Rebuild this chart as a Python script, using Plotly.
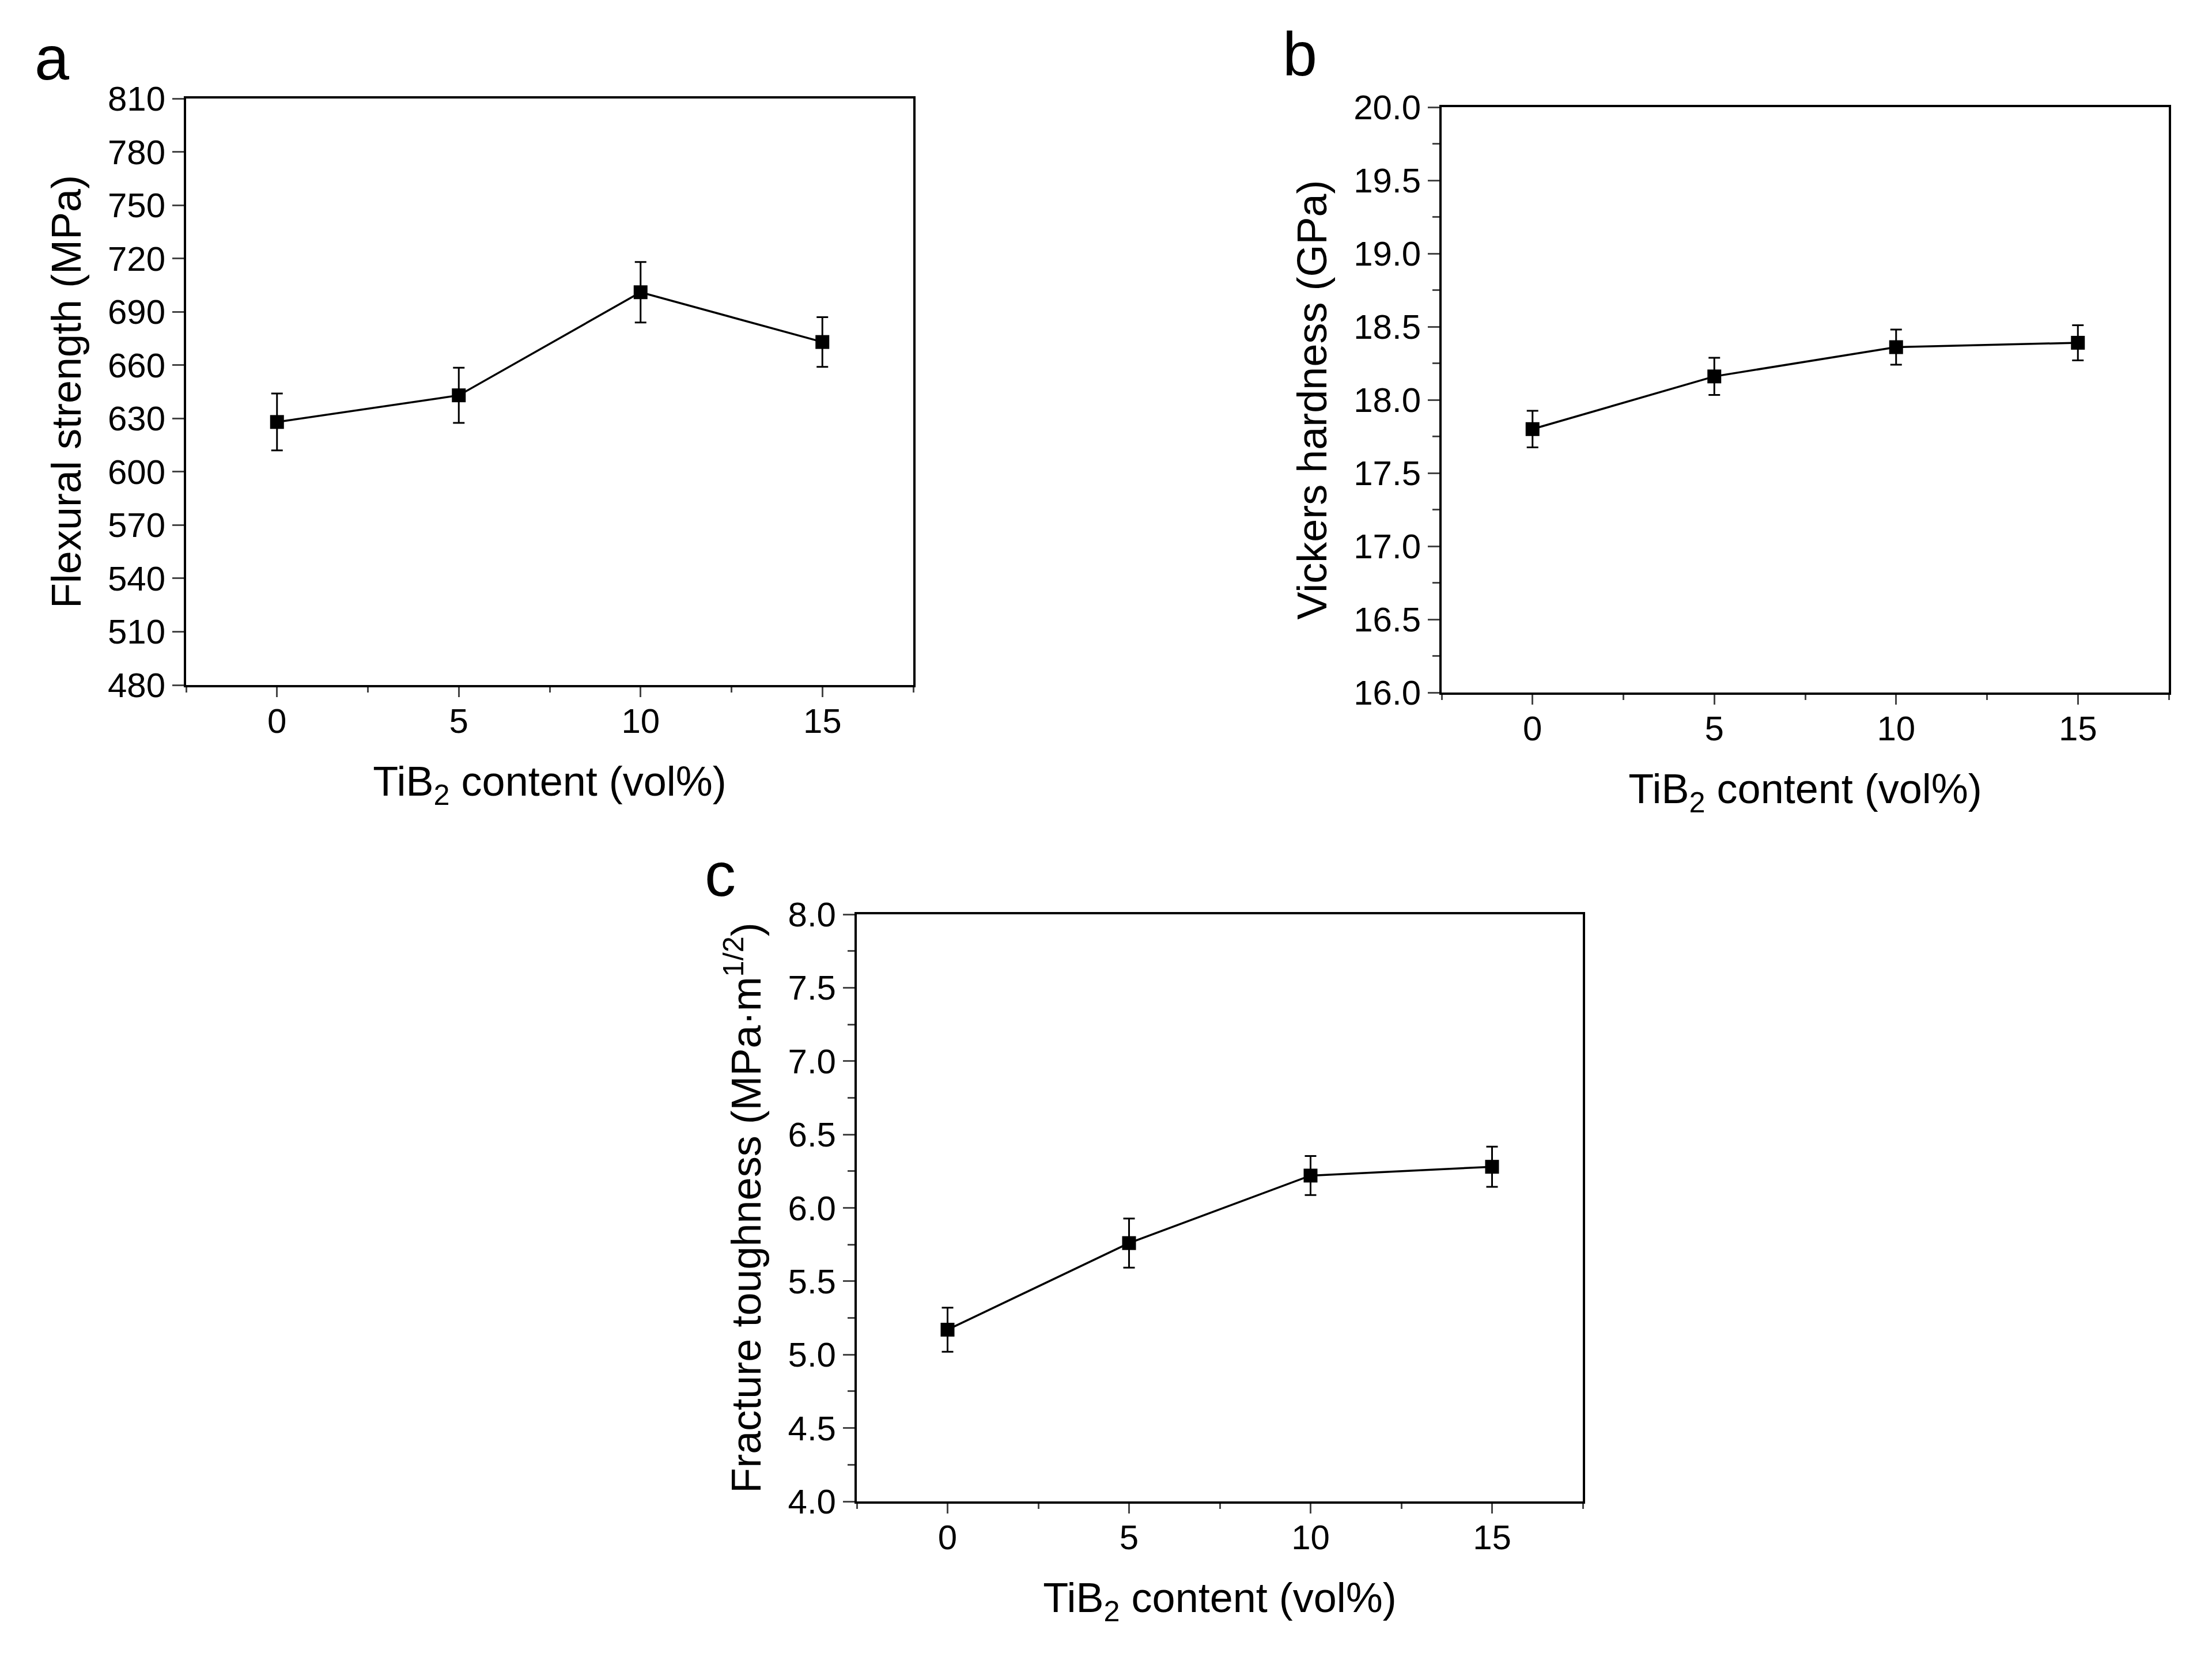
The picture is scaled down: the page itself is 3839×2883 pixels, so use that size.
import plotly.graph_objects as go

# TiB2 content (vol%)
content = [0, 5, 10, 15]

# a: flexural strength (MPa)
flex = [628, 643, 701, 673]
flex_err = [16, 15.5, 17, 14]

# b: Vickers hardness (GPa)
hv = [17.80, 18.16, 18.36, 18.39]
hv_err = [0.125, 0.127, 0.12, 0.12]

# c: fracture toughness (MPa m^1/2)
kic = [5.17, 5.76, 6.22, 6.28]
kic_err = [0.15, 0.167, 0.133, 0.137]

a_ticks = list(range(480, 811, 30))
b_ticks = [16.0, 16.5, 17.0, 17.5, 18.0, 18.5, 19.0, 19.5, 20.0]
c_ticks = [4.0, 4.5, 5.0, 5.5, 6.0, 6.5, 7.0, 7.5, 8.0]

W, H = 3839, 2883
OFF = 9  # page margin shift
FONT = "Liberation Sans, Arial, sans-serif"


def dx(x0, x1):
    return [(x0 - OFF) / W, (x1 - OFF) / W]


def dy(top, bottom):
    return [1 - (bottom - OFF) / H, 1 - (top - OFF) / H]


fig = go.Figure()


def add_series(y, err, xa, ya):
    fig.add_trace(go.Scatter(
        x=content, y=y, xaxis=xa, yaxis=ya,
        mode="lines+markers",
        line=dict(color="black", width=3.5),
        marker=dict(symbol="square", size=24, color="black"),
        error_y=dict(type="data", array=err, visible=True,
                     color="black", thickness=3, width=10),
        showlegend=False,
    ))


add_series(flex, flex_err, "x", "y")
add_series(hv, hv_err, "x2", "y2")
add_series(kic, kic_err, "x3", "y3")


def xax(dom, anchor):
    return dict(
        domain=dom, anchor=anchor, range=[-2.5, 17.5], automargin=False,
        tickvals=content, ticks="outside", ticklen=17, tickwidth=3,
        ticklabelstandoff=-10,
        minor=dict(tick0=0, dtick=2.5, ticks="outside", ticklen=9, tickwidth=3),
        showline=True, linecolor="black", linewidth=4, mirror=True,
        showgrid=False, zeroline=False,
        tickfont=dict(size=60, color="black", family=FONT),
        title=dict(text="TiB<sub>2</sub> content (vol%)", standoff=48,
                   font=dict(size=72, color="black", family=FONT)),
    )


def yax(dom, anchor, rng, ticks, title, fmt, minor):
    d = dict(
        domain=dom, anchor=anchor, range=rng, automargin=False,
        tickvals=ticks, tickformat=fmt, ticks="outside", ticklen=20, tickwidth=3,
        showline=True, linecolor="black", linewidth=4, mirror=True,
        showgrid=False, zeroline=False,
        tickfont=dict(size=60, color="black", family=FONT),
        title=dict(text=title, standoff=24,
                   font=dict(size=72, color="black", family=FONT)),
    )
    if minor:
        d["minor"] = dict(dtick=0.25, tick0=0, ticks="outside", ticklen=12, tickwidth=3)
    return d


fig.update_layout(
    width=W, height=H, autosize=False,
    margin=dict(l=0, r=0, t=0, b=0, autoexpand=False),
    paper_bgcolor="white", plot_bgcolor="white",
    font=dict(family=FONT, color="black"),
    xaxis=xax(dx(324, 1586), "y"),
    yaxis=yax(dy(172, 1190), "x", [480, 810], a_ticks,
              "Flexural strength (MPa)", "d", False),
    xaxis2=xax(dx(2503, 3765), "y2"),
    yaxis2=yax(dy(187, 1203), "x2", [16, 20], b_ticks,
               "Vickers hardness (GPa)", ".1f", True),
    xaxis3=xax(dx(1488, 2748), "y3"),
    yaxis3=yax(dy(1588, 2607), "x3", [4, 8], c_ticks,
               "Fracture toughness (MPa·m<sup>1/2</sup>)", ".1f", True),
)

# panel letters
for txt, px, py in [("a", 59, 102), ("b", 2225, 94), ("c", 1222, 1518)]:
    fig.add_annotation(text=txt, x=(px - OFF) / W, y=1 - (py - OFF) / H,
                       xref="paper", yref="paper",
                       xanchor="left", yanchor="middle", showarrow=False,
                       font=dict(size=108, color="black", family=FONT))

fig.write_html("out.html")
